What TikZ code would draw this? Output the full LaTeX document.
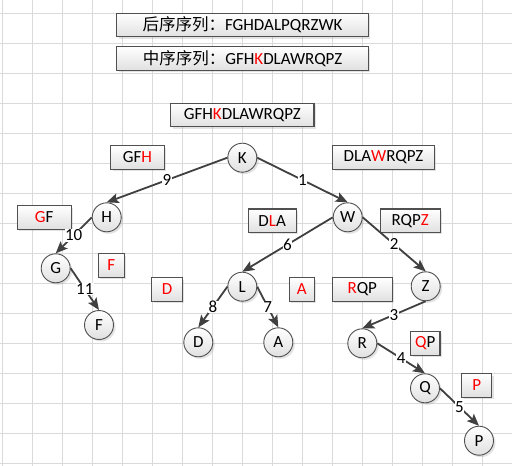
\documentclass[tikz,border=0pt]{standalone}
\usepackage{fontspec}
\setmainfont{Carlito}
\newfontfamily\cjk{Noto Sans CJK SC}
\usetikzlibrary{arrows.meta,shadows}
\definecolor{edgeGray}{RGB}{64,64,64}
\definecolor{rimGray}{RGB}{80,80,80}
\definecolor{gridGray}{RGB}{218,218,218}
\definecolor{keyRed}{RGB}{255,0,0}
\newcommand{\keych}[1]{\textcolor{keyRed}{#1}}
\tikzset{
    every node/.append style={align=center,font=\fontsize{17}{20}\selectfont},
    seqbox/.style={rectangle,draw=rimGray,line width=1.1pt,inner sep=0pt,minimum height=23.5pt,
        top color=white,bottom color=black!12,drop shadow={opacity=0.22,shadow xshift=2pt,shadow yshift=-2pt}},
    tnode/.style={circle,draw=rimGray,line width=0.9pt,inner sep=0pt,minimum size=29pt,
        top color=white,bottom color=black!12,drop shadow={opacity=0.22,shadow xshift=2pt,shadow yshift=-2pt}},
    arr/.style={-{Stealth[length=12pt,width=10pt,inset=2.5pt]},line width=1.8pt,draw=edgeGray,fill=edgeGray},
    lbl/.style={fill=white,inner sep=0.6pt},
    gridline/.style={draw=gridGray,line width=1pt}
}

\begin{document}
\begin{tikzpicture}[x=1pt,y=-1pt]
    \useasboundingbox (0,0) rectangle (512,466);
    \fill[white] (0,0) rectangle (512,466);
    % background grid
    \foreach \gx in {0,...,16} \draw[gridline] (2.3+30*\gx,0) -- (2.3+30*\gx,466);
    \foreach \gy in {0,...,15} \draw[gridline] (0,13.3+30*\gy) -- (512,13.3+30*\gy);

    % sequences
    \node[seqbox,minimum width=251.6pt] (seqpost) at (242.5,25.0) {{\cjk\fontsize{16.5}{20}\selectfont 后序序列：}FGHDALPQRZWK};
    \node[seqbox,minimum width=251.6pt] (seqin)   at (242.5,58.3) {{\cjk\fontsize{16.5}{20}\selectfont 中序序列：}GFH\keych{K}DLAWRQPZ};

    % split boxes
    \node[seqbox,minimum width=143.3pt] (bK) at (242.3,115.0) {GFH\keych{K}DLAWRQPZ};
    \node[seqbox,minimum width=53.6pt]  (bH) at (137.5,157.3) {GF\keych{H}};
    \node[seqbox,minimum width=101.6pt] (bW) at (383.5,157.3) {DLA\keych{W}RQPZ};
    \node[seqbox,minimum width=53.7pt]  (bG) at ( 44.2,217.3) {\keych{G}F};
    \node[seqbox,minimum width=47.7pt]  (bL) at (272.2,220.7) {D\keych{L}A};
    \node[seqbox,minimum width=59.7pt]  (bZ) at (410.2,220.7) {RQP\keych{Z}};
    \node[seqbox,minimum width=26.0pt]  (bF) at (111.3,265.3) {\keych{F}};
    \node[seqbox,minimum width=30.6pt]  (bD) at (167.0,289.5) {\keych{D}};
    \node[seqbox,minimum width=25.0pt]  (bA) at (301.8,289.5) {\keych{A}};
    \node[seqbox,minimum width=60.0pt]  (bR) at (362.3,289.5) {\keych{R}QP};
    \node[seqbox,minimum width=29.3pt]  (bQ) at (425.3,343.3) {\keych{Q}P};
    \node[seqbox,minimum width=30.0pt]  (bP) at (476.7,385.3) {\keych{P}};

    % tree
    \node[tnode] (k) at (242.3,157.7) {K};
    \node[tnode] (h) at (106.7,217.3) {H};
    \node[tnode] (w) at (347.7,217.3) {W};
    \node[tnode] (g) at ( 55.7,268.3) {G};
    \node[tnode] (f) at ( 99.0,325.0) {F};
    \node[tnode] (l) at (242.3,286.7) {L};
    \node[tnode] (z) at (425.7,286.3) {Z};
    \node[tnode] (d) at (198.3,342.3) {D};
    \node[tnode] (a) at (278.3,342.3) {A};
    \node[tnode] (r) at (362.3,343.3) {R};
    \node[tnode] (q) at (425.0,388.3) {Q};
    \node[tnode] (p) at (479.0,440.7) {P};

    \draw[arr] (k.east)  -- node[lbl]{1}  (w.north);
    \draw[arr] (w.east)  -- node[lbl]{2}  (z.north);
    \draw[arr] (z.south) -- node[lbl]{3}  (r.north);
    \draw[arr] (r.east)  -- node[lbl]{4}  (q.north);
    \draw[arr] (q.east)  -- node[lbl]{5}  (p.north);
    \draw[arr] (w.west)  -- node[lbl]{6}  (l.north);
    \draw[arr] (l.east)  -- node[lbl]{7}  (a.north);
    \draw[arr] (l.west)  -- node[lbl]{8}  (d.north);
    \draw[arr] (k.west)  -- node[lbl]{9}  (h.north);
    \draw[arr] (h.west)  -- node[lbl]{10} (g.north);
    \draw[arr] (g.east)  -- node[lbl]{11} (f.north);
\end{tikzpicture}
\end{document}
